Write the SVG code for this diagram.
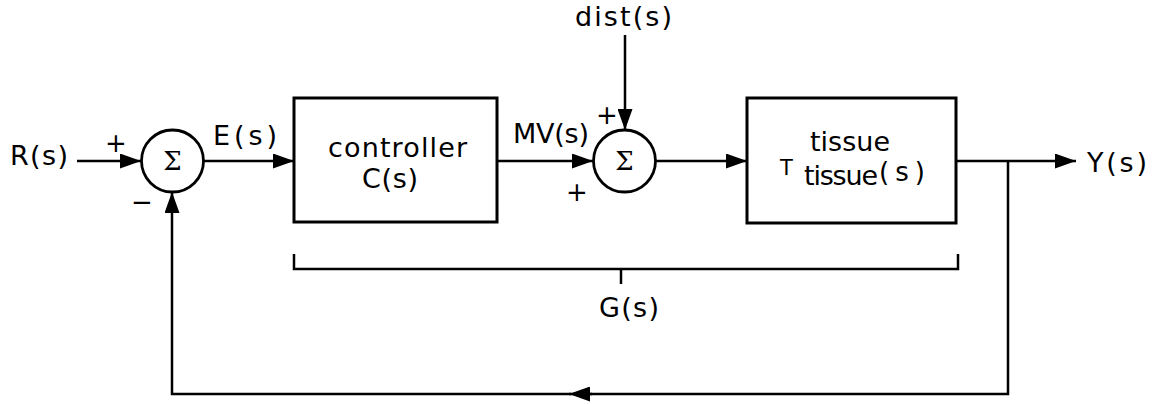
<svg xmlns="http://www.w3.org/2000/svg" width="1153" height="404" viewBox="0 0 1153 404">
<style>
  text { font-family: "DejaVu Sans", "Liberation Sans", sans-serif; fill: #000; }
  .lbl { font-size: 27px; }
  .sign { font-size: 26px; }
  .sig { font-family: "DejaVu Serif", "Liberation Serif", serif; font-size: 26px; text-anchor: middle; }
  .box { fill: #fff; stroke: #000; stroke-width: 3; }
  .sum { fill: #fff; stroke: #000; stroke-width: 2.8; }
  .wire { fill: none; stroke: #000; stroke-width: 2.5; }
</style>
<defs>
  <marker id="arr" viewBox="0 0 21 15" refX="21" refY="7.5" markerWidth="21" markerHeight="15" markerUnits="userSpaceOnUse" orient="auto">
    <path d="M0,0 L21,7.5 L0,15 Z" fill="#000"/>
  </marker>
</defs>
<rect width="1153" height="404" fill="#fff"/>

<g id="connectors">
  <line class="wire" x1="77" y1="161" x2="141" y2="161" marker-end="url(#arr)"/>
  <line class="wire" x1="204" y1="161" x2="294" y2="161" marker-end="url(#arr)"/>
  <line class="wire" x1="497" y1="161" x2="593" y2="161" marker-end="url(#arr)"/>
  <line class="wire" x1="625" y1="35" x2="625" y2="130" marker-end="url(#arr)"/>
  <line class="wire" x1="656" y1="161" x2="747" y2="161" marker-end="url(#arr)"/>
  <line class="wire" x1="956" y1="161" x2="1076" y2="161" marker-end="url(#arr)"/>
  <polyline class="wire" points="1008,161 1008,394 590,394"/>
  <line class="wire" x1="592" y1="394" x2="569" y2="394" marker-end="url(#arr)"/>
  <polyline class="wire" points="571,394 172,394 172,192" marker-end="url(#arr)"/>
</g>

<g id="sum1">
  <circle class="sum" cx="172.5" cy="161" r="31"/>
  <text class="sig" x="172.5" y="170">Σ</text>
  <text class="sign" x="105" y="152">+</text>
  <text class="sign" x="131" y="211">−</text>
</g>

<g id="controller">
  <rect class="box" x="294" y="98" width="203" height="124"/>
  <text class="lbl" x="328" y="157" textLength="139" lengthAdjust="spacing">controller</text>
  <text class="lbl" x="362" y="188" textLength="56" lengthAdjust="spacing">C(s)</text>
</g>

<g id="sum2">
  <circle class="sum" cx="624.5" cy="161" r="31"/>
  <text class="sig" x="624.5" y="170">Σ</text>
  <text class="sign" x="596" y="124">+</text>
  <text class="sign" x="566" y="201">+</text>
</g>

<g id="tissue">
  <rect class="box" x="747" y="98" width="209" height="125"/>
  <text class="lbl" x="810" y="151" textLength="80" lengthAdjust="spacing">tissue</text>
  <text style="font-size:21px" x="780" y="175">T</text>
  <text class="lbl" x="804" y="185" textLength="74" lengthAdjust="spacing">tissue</text>
  <text style="font-size:26px" x="879" y="181" textLength="46" lengthAdjust="spacing">(s)</text>
</g>

<g id="labels">
  <text class="lbl" x="10" y="165" textLength="58" lengthAdjust="spacing">R(s)</text>
  <text class="lbl" x="213" y="145" textLength="64" lengthAdjust="spacing">E(s)</text>
  <text class="lbl" x="513" y="143" textLength="76" lengthAdjust="spacing">MV(s)</text>
  <text class="lbl" x="575" y="26" textLength="97" lengthAdjust="spacing">dist(s)</text>
  <text class="lbl" x="1087" y="172" textLength="60" lengthAdjust="spacing">Y(s)</text>
  <text class="lbl" x="599" y="317" textLength="60" lengthAdjust="spacing">G(s)</text>
</g>

<g id="bracket">
  <polyline class="wire" points="294,254 294,269 958,269 958,254"/>
  <line class="wire" x1="621" y1="269" x2="621" y2="284"/>
</g>
</svg>
